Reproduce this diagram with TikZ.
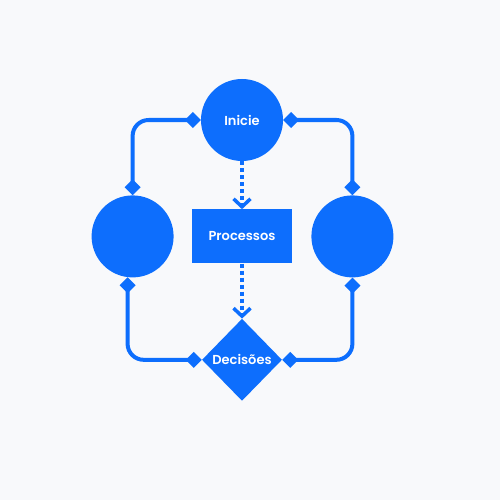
\documentclass[tikz,border=0pt]{standalone}
\usepackage{fontspec}
\setmainfont{Poppins}[BoldFont={* SemiBold}]
\usetikzlibrary{arrows.meta, positioning, shapes.geometric}
\definecolor{azul}{HTML}{0D6EFD}
\definecolor{fundo}{HTML}{F8F9FB}

\begin{document}
\begin{tikzpicture}[x=1pt, y=1pt,
    every node/.style={text=white, font=\bfseries\fontsize{13}{15}\selectfont},
    blob/.style={circle, fill=azul, minimum size=82pt, inner sep=0pt},
    caixa/.style={rectangle, fill=azul, minimum width=100pt, minimum height=54pt, inner sep=0pt},
    losango/.style={diamond, fill=azul, minimum width=80pt, minimum height=82pt, inner sep=0pt},
    link/.style={draw=azul, line width=4pt, rounded corners=16pt,
        {Diamond[length=16pt, width=16pt]}-{Diamond[length=16pt, width=16pt]}},
    flow/.style={draw=azul, line width=4pt, dash pattern=on 4pt off 3pt,
        -{Straight Barb[length=8pt, width=17pt, line width=3.5pt]}}]
        % background
        \fill[fundo] (0,0) rectangle (500,-500);
        \node[blob] (inicie) at (242,-120) {Inicie};
        \node[caixa, below=48pt of inicie] (proc) {Processos};
        \node[blob, left=18pt of proc] (esq) {};
        \node[blob, right=19pt of proc] (dir) {};
        \node[losango, below=55pt of proc] (decis) {Decisões};
        
        \draw[flow] (inicie) -- (proc);
        \draw[flow] (proc) -- (decis);
        \draw[link] (inicie.west) -| (esq.north);
        \draw[link] (inicie.east) -| (dir.north);
        \draw[link] (esq.-97) |- (decis.west);
        \draw[link] (dir.south) |- (decis.east);
    \end{tikzpicture}
\end{document}
